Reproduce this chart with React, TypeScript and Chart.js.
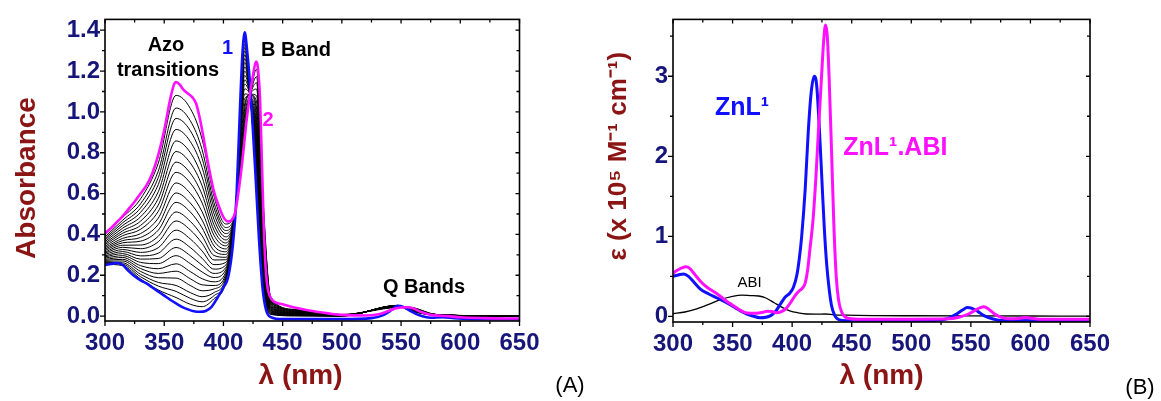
import React, { useEffect, useRef } from 'react';
import { Chart, registerables } from 'chart.js';

Chart.register(...registerables);

// ---------- axes ----------
const xMajorTicks = [300, 350, 400, 450, 500, 550, 600, 650];
const xMinorTicks = [325, 375, 425, 475, 525, 575, 625];
const yMajorTicksA = [0, 0.2, 0.4, 0.6, 0.8, 1.0, 1.2, 1.4];
const yMinorTicksA = [0.1, 0.3, 0.5, 0.7, 0.9, 1.1, 1.3];
const yMajorTicksB = [0, 1, 2, 3];
const yMinorTicksB = [0.5, 1.5, 2.5, 3.5];

// ---------- panel A : titration ----------
const curve1Wavelengths = [300, 305, 310, 315, 320, 325, 330, 335, 340, 345, 350, 355, 360, 365, 370, 375, 380, 385, 390, 395, 400, 404, 408, 411, 414, 416, 418, 420, 422, 424, 427, 430, 433, 436, 440, 450, 500, 525, 535, 542, 547, 552, 558, 565, 575, 585, 595, 610, 650];
const curve1Values = [0.25, 0.255, 0.26, 0.25, 0.22, 0.195, 0.175, 0.16, 0.14, 0.12, 0.10, 0.08, 0.062, 0.045, 0.033, 0.024, 0.021, 0.025, 0.045, 0.09, 0.14, 0.19, 0.35, 0.58, 1.02, 1.28, 1.39, 1.30, 1.17, 1.0, 0.70, 0.38, 0.14, 0.03, -0.005, -0.015, -0.015, -0.01, 0.005, 0.03, 0.05, 0.045, 0.025, 0.005, -0.008, -0.005, -0.01, -0.015, -0.015];

const curve2Wavelengths = [300, 305, 310, 315, 320, 325, 330, 335, 340, 345, 350, 355, 358, 360, 363, 366, 370, 374, 377, 380, 383, 386, 389, 392, 396, 400, 404, 407, 410, 413, 416, 419, 422, 425, 427.5, 429, 431, 432.5, 434, 435.5, 437, 439, 443, 450, 460, 470, 480, 490, 500, 520, 530, 538, 545, 550, 555, 560, 567, 575, 590, 600, 620, 650];
const curve2Values = [0.406, 0.43, 0.46, 0.49, 0.525, 0.56, 0.60, 0.64, 0.70, 0.79, 0.91, 1.06, 1.13, 1.146, 1.135, 1.11, 1.09, 1.07, 1.04, 0.97, 0.88, 0.78, 0.69, 0.61, 0.54, 0.485, 0.463, 0.47, 0.51, 0.62, 0.76, 0.93, 1.07, 1.18, 1.246, 1.22, 1.05, 0.75, 0.45, 0.25, 0.15, 0.10, 0.07, 0.058, 0.042, 0.03, 0.02, 0.012, 0.006, 0.003, 0.008, 0.022, 0.037, 0.042, 0.043, 0.038, 0.02, 0.006, 0.0, -0.006, -0.01, -0.012];

const titrationWavelengths = [300, 315, 330, 345, 360, 372, 382, 392, 402, 410, 418, 423, 428, 433, 440, 460, 500, 547, 556, 580, 650];
const titrationCurves = [
  [0.254, 0.247, 0.182, 0.128, 0.091, 0.058, 0.046, 0.085, 0.168, 0.500, 1.376, 1.051, 0.637, 0.164, 0.008, 0.001, 0, 0.053, 0.030, 0.004, 0],
  [0.258, 0.254, 0.193, 0.147, 0.121, 0.087, 0.070, 0.100, 0.177, 0.500, 1.362, 1.053, 0.654, 0.177, 0.010, 0.002, 0, 0.052, 0.031, 0.004, 0],
  [0.263, 0.261, 0.205, 0.165, 0.150, 0.115, 0.095, 0.115, 0.185, 0.501, 1.349, 1.054, 0.671, 0.190, 0.013, 0.003, 0.001, 0.052, 0.031, 0.004, 0],
  [0.268, 0.270, 0.219, 0.188, 0.186, 0.150, 0.124, 0.133, 0.195, 0.501, 1.332, 1.056, 0.691, 0.207, 0.016, 0.004, 0.001, 0.052, 0.032, 0.004, 0],
  [0.273, 0.278, 0.233, 0.209, 0.220, 0.183, 0.153, 0.150, 0.205, 0.501, 1.316, 1.057, 0.711, 0.223, 0.019, 0.005, 0.001, 0.051, 0.032, 0.005, 0],
  [0.278, 0.287, 0.247, 0.232, 0.256, 0.218, 0.183, 0.168, 0.215, 0.502, 1.299, 1.059, 0.732, 0.240, 0.022, 0.006, 0.001, 0.051, 0.033, 0.005, 0],
  [0.284, 0.296, 0.263, 0.257, 0.296, 0.257, 0.216, 0.189, 0.227, 0.502, 1.280, 1.061, 0.755, 0.258, 0.026, 0.008, 0.002, 0.051, 0.033, 0.005, 0],
  [0.290, 0.306, 0.279, 0.282, 0.336, 0.296, 0.249, 0.209, 0.238, 0.503, 1.261, 1.063, 0.778, 0.277, 0.029, 0.009, 0.002, 0.050, 0.034, 0.005, 0],
  [0.295, 0.316, 0.295, 0.308, 0.377, 0.336, 0.283, 0.230, 0.250, 0.503, 1.242, 1.065, 0.802, 0.296, 0.033, 0.010, 0.002, 0.050, 0.034, 0.005, 0],
  [0.302, 0.326, 0.312, 0.335, 0.421, 0.378, 0.319, 0.252, 0.263, 0.503, 1.221, 1.067, 0.827, 0.316, 0.036, 0.012, 0.003, 0.049, 0.035, 0.005, 0],
  [0.308, 0.337, 0.330, 0.364, 0.466, 0.422, 0.357, 0.275, 0.276, 0.504, 1.200, 1.069, 0.854, 0.337, 0.040, 0.013, 0.003, 0.049, 0.036, 0.005, 0],
  [0.314, 0.347, 0.348, 0.391, 0.510, 0.464, 0.393, 0.297, 0.288, 0.504, 1.179, 1.071, 0.879, 0.357, 0.044, 0.014, 0.003, 0.048, 0.036, 0.006, 0],
  [0.321, 0.359, 0.367, 0.421, 0.557, 0.510, 0.432, 0.321, 0.302, 0.505, 1.157, 1.073, 0.906, 0.379, 0.048, 0.016, 0.004, 0.048, 0.037, 0.006, 0],
  [0.328, 0.370, 0.385, 0.449, 0.603, 0.554, 0.470, 0.344, 0.315, 0.505, 1.136, 1.075, 0.932, 0.400, 0.052, 0.017, 0.004, 0.048, 0.037, 0.006, 0],
  [0.335, 0.381, 0.404, 0.480, 0.652, 0.601, 0.511, 0.369, 0.329, 0.505, 1.113, 1.077, 0.961, 0.422, 0.057, 0.019, 0.004, 0.047, 0.038, 0.006, 0],
  [0.342, 0.394, 0.425, 0.513, 0.704, 0.652, 0.554, 0.396, 0.344, 0.506, 1.088, 1.080, 0.991, 0.446, 0.061, 0.021, 0.005, 0.046, 0.039, 0.006, 0],
  [0.350, 0.406, 0.444, 0.544, 0.754, 0.700, 0.595, 0.421, 0.358, 0.506, 1.065, 1.082, 1.019, 0.469, 0.066, 0.022, 0.005, 0.046, 0.040, 0.007, 0],
  [0.357, 0.418, 0.465, 0.576, 0.806, 0.750, 0.638, 0.447, 0.373, 0.507, 1.040, 1.084, 1.049, 0.493, 0.070, 0.024, 0.005, 0.045, 0.040, 0.007, 0],
  [0.365, 0.431, 0.486, 0.609, 0.858, 0.801, 0.681, 0.474, 0.388, 0.507, 1.016, 1.087, 1.079, 0.517, 0.075, 0.026, 0.006, 0.045, 0.041, 0.007, 0],
  [0.373, 0.444, 0.508, 0.644, 0.914, 0.855, 0.728, 0.502, 0.404, 0.508, 0.989, 1.089, 1.112, 0.543, 0.080, 0.028, 0.006, 0.044, 0.042, 0.007, 0],
  [0.380, 0.457, 0.529, 0.678, 0.968, 0.908, 0.773, 0.530, 0.419, 0.508, 0.964, 1.092, 1.143, 0.568, 0.084, 0.029, 0.007, 0.044, 0.043, 0.007, 0],
  [0.388, 0.470, 0.550, 0.710, 1.019, 0.957, 0.815, 0.556, 0.434, 0.509, 0.940, 1.094, 1.173, 0.592, 0.089, 0.031, 0.007, 0.043, 0.043, 0.008, 0],
  [0.397, 0.484, 0.574, 0.749, 1.081, 1.017, 0.866, 0.587, 0.451, 0.509, 0.911, 1.097, 1.209, 0.620, 0.094, 0.033, 0.008, 0.043, 0.044, 0.008, 0],
];

// ---------- panel B : molar absorptivity ----------
const znlWavelengths = [300, 305, 309, 313, 318, 323, 330, 337, 345, 352, 357, 362, 367, 373, 378, 382, 386, 390, 394, 398, 401, 404, 406, 408, 411, 413.5, 416, 418.5, 420.5, 423, 425, 427, 429, 431, 433, 435.5, 438, 442, 460, 500, 520, 530, 538, 543, 547, 551, 556, 561, 568, 575, 650];
const znlValues = [0.50, 0.52, 0.53, 0.50, 0.42, 0.34, 0.28, 0.23, 0.17, 0.11, 0.065, 0.03, 0.005, -0.016, -0.01, 0.01, 0.06, 0.15, 0.24, 0.29, 0.36, 0.52, 0.72, 1.0, 1.6, 2.3, 2.8, 3.0, 2.9, 2.3, 1.7, 1.1, 0.65, 0.35, 0.14, 0.02, -0.03, -0.05, -0.055, -0.055, -0.05, -0.03, 0.03, 0.08, 0.11, 0.10, 0.06, 0.01, -0.03, -0.05, -0.055];

const znlAbiWavelengths = [300, 304, 308, 311, 314, 318, 323, 328, 333, 338, 345, 350, 355, 360, 365, 370, 375, 379, 383, 387, 391, 395, 399, 403, 406, 409, 411, 413, 415, 417.5, 420, 422, 424.5, 426.5, 428, 429.5, 431, 433, 435, 437, 439, 442, 446, 455, 500, 530, 540, 548, 554, 558, 561, 565, 570, 575, 582, 590, 596, 602, 610, 650];
const znlAbiValues = [0.54, 0.58, 0.61, 0.62, 0.60, 0.53, 0.44, 0.37, 0.32, 0.27, 0.19, 0.14, 0.09, 0.05, 0.04, 0.04, 0.05, 0.065, 0.06, 0.045, 0.06, 0.10, 0.18, 0.27, 0.32, 0.36, 0.42, 0.58, 0.85, 1.2, 1.75, 2.3, 2.95, 3.45, 3.64, 3.5, 3.0, 2.1, 1.15, 0.5, 0.2, 0.04, -0.02, -0.035, -0.035, -0.03, -0.01, 0.03, 0.08, 0.11, 0.12, 0.09, 0.03, -0.01, -0.03, -0.025, -0.015, -0.025, -0.035, -0.035];

const abiWavelengths = [300, 310, 320, 330, 340, 350, 358, 365, 372, 378, 385, 392, 398, 405, 412, 420, 428, 435, 445, 470, 500, 550, 600, 650];
const abiValues = [0.033, 0.055, 0.095, 0.15, 0.21, 0.25, 0.265, 0.26, 0.255, 0.23, 0.17, 0.11, 0.07, 0.045, 0.03, 0.028, 0.03, 0.02, 0.015, 0.01, 0.008, 0.006, 0.005, 0.004];

// ---------- styling ----------
const FONT = '"Liberation Sans", Arial, Helvetica, sans-serif';
const NAVY = '#16167a';
const DARKRED = '#8b1414';
const BLUE = '#1010ff';
const MAGENTA = '#ff10ff';

const annotationsA = [
  { text: 'Azo', x: 351.5, y: 1.323, color: '#000', font: `bold 20px ${FONT}` },
  { text: 'transitions', x: 353.2, y: 1.204, color: '#000', font: `bold 20px ${FONT}` },
  { text: '1', x: 403.5, y: 1.313, color: BLUE, font: `bold 20px ${FONT}` },
  { text: 'B Band', x: 461.3, y: 1.301, color: '#000', font: `bold 20px ${FONT}` },
  { text: '2', x: 437.7, y: 0.958, color: MAGENTA, font: `bold 20px ${FONT}` },
  { text: 'Q Bands', x: 569.4, y: 0.138, color: '#000', font: `bold 20px ${FONT}` },
];
const annotationsB = [
  { text: 'ZnL¹', x: 358, y: 2.6, color: BLUE, font: `bold 25px ${FONT}` },
  { text: 'ZnL¹.ABI', x: 486.6, y: 2.1, color: MAGENTA, font: `bold 25px ${FONT}` },
  { text: 'ABI', x: 364.3, y: 0.42, color: '#000', font: `15px ${FONT}` },
];

const toPoints = (xs: number[], ys: number[]) => xs.map((x, i) => ({ x, y: ys[i] }));

function decorPlugin(opts: any) {
  return {
    id: 'decor' + opts.tag,
    afterDatasetsDraw(chart: any) {
      const { ctx, chartArea: a, scales } = chart;
      const xs = scales.x;
      const ys = scales.y;
      ctx.save();
      ctx.strokeStyle = '#000';
      ctx.lineWidth = 1.6;
      ctx.strokeRect(a.left, a.top, a.right - a.left, a.bottom - a.top);
      ctx.lineWidth = 1.3;
      ctx.beginPath();
      const xt = (v: number, outLen: number, inLen: number) => {
        const p = xs.getPixelForValue(v);
        ctx.moveTo(p, a.bottom);
        ctx.lineTo(p, a.bottom + outLen);
        ctx.moveTo(p, a.top);
        ctx.lineTo(p, a.top + inLen);
      };
      const yt = (v: number, outLen: number, inLen: number) => {
        const p = ys.getPixelForValue(v);
        ctx.moveTo(a.left, p);
        ctx.lineTo(a.left - outLen, p);
        ctx.moveTo(a.right, p);
        ctx.lineTo(a.right - inLen, p);
      };
      opts.xMajor.forEach((v: number) => xt(v, 5, 4));
      opts.xMinor.forEach((v: number) => xt(v, 3, 3));
      opts.yMajor.forEach((v: number) => yt(v, 5, 4));
      opts.yMinor.forEach((v: number) => yt(v, 3, 3));
      ctx.stroke();

      ctx.textAlign = 'center';
      ctx.textBaseline = 'middle';
      opts.annotations.forEach((an: any) => {
        ctx.font = an.font;
        ctx.fillStyle = an.color;
        ctx.fillText(an.text, xs.getPixelForValue(an.x), ys.getPixelForValue(an.y));
      });
      ctx.font = `22px ${FONT}`;
      ctx.fillStyle = '#000';
      ctx.fillText(opts.panelLabel, opts.panelLabelX, opts.panelLabelY);
      ctx.restore();
    },
  };
}

function makeConfig(p: any): any {
  return {
    type: 'line',
    data: { datasets: p.datasets },
    options: {
      responsive: false,
      animation: false,
      events: [],
      layout: { padding: p.padding },
      plugins: { legend: { display: false }, tooltip: { enabled: false } },
      elements: { point: { radius: 0 } },
      scales: {
        x: {
          type: 'linear',
          min: 300,
          max: 650,
          afterBuildTicks: (s: any) => { s.ticks = xMajorTicks.map((v) => ({ value: v })); },
          afterFit: (s: any) => { s.height = p.xAxisHeight; },
          grid: { display: false, drawTicks: false },
          border: { display: false },
          ticks: {
            color: NAVY,
            font: { family: FONT, size: 24, weight: 'bold' },
            padding: 8,
            maxRotation: 0,
            autoSkip: false,
            callback: (v: any) => String(v),
          },
          title: {
            display: true,
            text: p.xTitle,
            color: DARKRED,
            font: { family: FONT, size: 28, weight: 'bold' },
            padding: { top: 0, bottom: p.xTitlePad },
          },
        },
        y: {
          type: 'linear',
          min: p.yMin,
          max: p.yMax,
          afterBuildTicks: (s: any) => { s.ticks = p.yMajor.map((v: number) => ({ value: v })); },
          afterFit: (s: any) => { s.width = p.yAxisWidth; },
          grid: { display: false, drawTicks: false },
          border: { display: false },
          ticks: {
            color: NAVY,
            font: { family: FONT, size: 24, weight: 'bold' },
            padding: 5,
            autoSkip: false,
            callback: p.yLabel,
          },
          title: {
            display: true,
            text: p.yTitle,
            color: DARKRED,
            font: { family: FONT, size: p.yTitleSize, weight: 'bold' },
            padding: { top: p.yTitlePad, bottom: 0 },
          },
        },
      },
    },
    plugins: [decorPlugin(p.decor)],
  };
}

function buildA() {
  const datasets: any[] = [
    { data: toPoints(curve2Wavelengths, curve2Values), borderColor: MAGENTA, borderWidth: 2.6, cubicInterpolationMode: 'monotone' },
    { data: toPoints(curve1Wavelengths, curve1Values), borderColor: BLUE, borderWidth: 2.6, cubicInterpolationMode: 'monotone' },
  ];
  titrationCurves.forEach((row) => {
    datasets.push({ data: toPoints(titrationWavelengths, row), borderColor: '#000', borderWidth: 1, cubicInterpolationMode: 'monotone' });
  });
  return makeConfig({
    datasets,
    padding: { left: 0, right: 70.5, top: 17, bottom: 0 },
    xAxisHeight: 80,
    yAxisWidth: 105,
    yMin: -0.024,
    yMax: 1.453,
    yMajor: yMajorTicksA,
    yLabel: (v: any) => Number(v).toFixed(1),
    xTitle: 'λ (nm)   ',
    xTitlePad: 8,
    yTitle: 'Absorbance  ',
    yTitleSize: 28,
    yTitlePad: 10,
    decor: {
      tag: 'A', xMajor: xMajorTicks, xMinor: xMinorTicks, yMajor: yMajorTicksA, yMinor: yMinorTicksA,
      annotations: annotationsA, panelLabel: '(A)', panelLabelX: 570, panelLabelY: 386,
    },
  });
}

function buildB() {
  const datasets: any[] = [
    { data: toPoints(znlAbiWavelengths, znlAbiValues), borderColor: MAGENTA, borderWidth: 3, cubicInterpolationMode: 'monotone' },
    { data: toPoints(znlWavelengths, znlValues), borderColor: BLUE, borderWidth: 3, cubicInterpolationMode: 'monotone' },
    { data: toPoints(abiWavelengths, abiValues), borderColor: '#000', borderWidth: 1.3, cubicInterpolationMode: 'monotone' },
  ];
  return makeConfig({
    datasets,
    padding: { left: 0, right: 71, top: 15, bottom: 0 },
    xAxisHeight: 79,
    yAxisWidth: 83,
    yMin: -0.07,
    yMax: 3.71,
    yMajor: yMajorTicksB,
    yLabel: (v: any) => String(v),
    xTitle: 'λ (nm)',
    xTitlePad: 8,
    yTitle: '    ε (x 10⁵ M⁻¹ cm⁻¹)',
    yTitleSize: 26,
    yTitlePad: 13,
    decor: {
      tag: 'B', xMajor: xMajorTicks, xMinor: xMinorTicks, yMajor: yMajorTicksB, yMinor: yMinorTicksB,
      annotations: annotationsB, panelLabel: '(B)', panelLabelX: 550, panelLabelY: 388,
    },
  });
}

export default function App() {
  const refA = useRef<HTMLCanvasElement>(null);
  const refB = useRef<HTMLCanvasElement>(null);
  useEffect(() => {
    const a = new Chart(refA.current as HTMLCanvasElement, buildA());
    const b = new Chart(refB.current as HTMLCanvasElement, buildB());
    return () => {
      a.destroy();
      b.destroy();
    };
  }, []);
  return (
    <div style={{ position: 'absolute', left: 0, top: 0, width: 1161, height: 401, background: '#fff' }}>
      <canvas ref={refA} width={590} height={401} style={{ position: 'absolute', left: 0, top: 0, width: 590, height: 401 }} />
      <canvas ref={refB} width={571} height={401} style={{ position: 'absolute', left: 590, top: 0, width: 571, height: 401 }} />
    </div>
  );
}
